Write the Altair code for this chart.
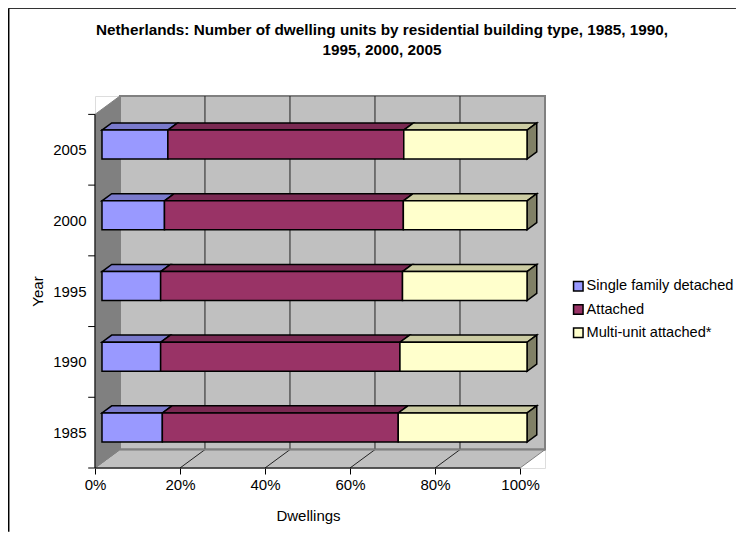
import altair as alt
import pandas as pd

YEARS = [1985, 1990, 1995, 2000, 2005]
SERIES = ["Single family detached", "Attached", "Multi-unit attached*"]
SINGLE = [14.2, 13.8, 13.8, 14.7, 15.5]
ATTACHED = [55.5, 56.3, 56.9, 56.2, 55.5]
MULTI = [30.3, 29.9, 29.3, 29.1, 29.0]
X_TICKS = [0, 20, 40, 60, 80, 100]

FRONT = ["#9999FF", "#993366", "#FFFFCC"]
TOP = ["#7A7ACC", "#7A2952", "#CCCCA3"]
END = "#808066"
WALL = "#C0C0C0"
SIDE = "#808080"

# oblique projection of the excel-style 3D box
DX, DY = 5.87, 0.26
Z0, Z1 = 0.28, 0.67
BAR_H = 0.41
XMAX = 100 + DX
YMAX = 5 + DY
FONT = "Liberation Sans"

X = alt.X("x:Q", scale=alt.Scale(domain=[0, XMAX], nice=False, zero=False),
          axis=alt.Axis(values=X_TICKS, labelExpr="datum.value + '%'", title="Dwellings",
                        domain=False, grid=False, tickSize=6, tickColor="black", tickWidth=1,
                        labelFontSize=15, labelColor="black", labelPadding=3, labelFlush=False,
                        titleFontSize=15, titleFontWeight="normal", titleColor="black",
                        titleX=213, titleY=40))
Y = alt.Y("y:Q", scale=alt.Scale(domain=[0, YMAX], nice=False, zero=False),
          axis=alt.Axis(values=[i + 0.5 for i in range(len(YEARS))],
                        labelExpr=f"{YEARS}[floor(datum.value)]", title="Year",
                        domain=False, grid=False, ticks=False, labelFlush=False,
                        labelFontSize=15, labelColor="black", labelPadding=9,
                        titleFontSize=15, titleFontWeight="normal", titleColor="black",
                        titleX=-50, titleY=195))


def P(p, y, z):
    return (p + z * DX, y + z * DY)


def poly(polys, fill, stroke, sw):
    rows = []
    for k, pts in enumerate(polys):
        for o, (x, y) in enumerate(pts):
            rows.append({"x": x, "y": y, "o": o, "k": k})
    return alt.Chart(pd.DataFrame(rows)).mark_line(
        fill=fill, stroke=stroke, strokeWidth=sw, interpolate="linear-closed"
    ).encode(x=X, y=Y, order="o:Q", detail="k:N")


def segs(rows, color, sw):
    df = pd.DataFrame(rows, columns=["x", "y", "x1", "y1"])
    return alt.Chart(df).mark_rule(color=color, strokeWidth=sw).encode(
        x=X, y=Y, x2="x1:Q", y2="y1:Q"
    )


layers = []

# back wall
wall_df = pd.DataFrame([{"x": DX, "x1": XMAX, "y": DY, "y1": YMAX}])
layers.append(
    alt.Chart(wall_df).mark_rect(fill=WALL, stroke=SIDE, strokeWidth=2).encode(
        x=X, x2="x1:Q", y=Y, y2="y1:Q",
    )
)
# floor and side wall
layers.append(poly([[P(0, 0, 0), P(100, 0, 0), P(100, 0, 1), P(0, 0, 1)]], WALL, "#808080", 1))
layers.append(poly([[P(0, 0, 0), P(0, 5, 0), P(0, 5, 1), P(0, 0, 1)]], SIDE, "#808080", 1))
# gridlines
grid = []
for t in X_TICKS[1:-1]:
    grid.append([P(t, 0, 1)[0], P(t, 0, 1)[1], P(t, 5, 1)[0], P(t, 5, 1)[1]])
    grid.append([P(t, 0, 0)[0], 0, P(t, 0, 1)[0], P(t, 0, 1)[1]])
layers.append(segs(grid, "#222222", 1))
# floor back edge reinforces the box
layers.append(segs([[DX, DY, XMAX, DY]], "#808080", 2))

# bars
front_rows = []
for i, yr in enumerate(YEARS):
    start = 0
    yb = i + 0.5 - BAR_H / 2
    yt = i + 0.5 + BAR_H / 2
    for s, vals in enumerate([SINGLE, ATTACHED, MULTI]):
        end = start + vals[i]
        layers.append(poly([[P(start, yt, Z0), P(end, yt, Z0), P(end, yt, Z1), P(start, yt, Z1)]],
                           TOP[s], "black", 1.5))
        a = P(start, yb, Z0)
        b = P(end, yt, Z0)
        front_rows.append({"x": a[0], "y": a[1], "x1": b[0], "y1": b[1], "series": SERIES[s]})
        start = end
    layers.append(poly([[P(100, yb, Z0), P(100, yt, Z0), P(100, yt, Z1), P(100, yb, Z1)]],
                       END, "black", 1.5))

layers.append(
    alt.Chart(pd.DataFrame(front_rows)).mark_rect(stroke="black", strokeWidth=1.5).encode(
        x=X, x2="x1:Q", y=Y, y2="y1:Q",
        fill=alt.Fill("series:N",
                      scale=alt.Scale(domain=SERIES, range=FRONT),
                      legend=alt.Legend(title=None, orient="none", legendX=476, legendY=183,
                                        symbolType="square", symbolSize=90,
                                        symbolStrokeColor="black", symbolStrokeWidth=1.5,
                                        labelFontSize=14.6, labelColor="black", labelLimit=220,
                                        rowPadding=6.2, labelOffset=1)),
    )
)

# front axis lines and the y ticks at band edges
axis_lines = [[0, 0, 100, 0], [0, 0, 0, 5]] + [[-1.6, k, 0, k] for k in range(len(YEARS) + 1)]
layers.append(segs(axis_lines, "black", 1))

# outer frame of the chart
FL, FR, FT, FB = -20.3, 150.8, 6.5, -0.9
layers.append(segs([[FL, FT, FR, FT]], "#333333", 1.5))
layers.append(segs([[FL, FT, FL, FB]], "black", 1.5))

chart = alt.layer(*layers).properties(
    width=450,
    height=372,
    padding={"left": 87, "top": 88, "right": 191, "bottom": 64},
    autosize=alt.AutoSizeParams(type="none"),
    title=alt.TitleParams(
        text=["Netherlands: Number of dwelling units by residential building type, 1985, 1990,",
              "1995, 2000, 2005"],
        fontSize=15.3, font=FONT, fontWeight="bold", color="black",
        anchor="middle", align="center", dx=62, offset=-51, lineHeight=20,
    ),
).configure_view(stroke=None).configure(font=FONT)

chart.save("out.html", embed_options={"renderer": "svg", "actions": False})
